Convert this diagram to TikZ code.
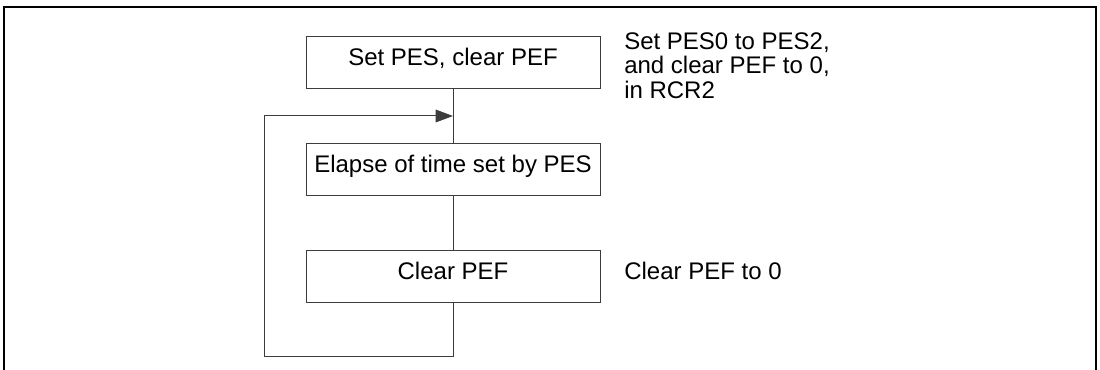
\documentclass[tikz,border=0pt]{standalone}
\usepackage{fontspec}
\setmainfont{Liberation Sans}
\usetikzlibrary{arrows.meta}

\definecolor{linegray}{RGB}{60,60,60}

\tikzset{
    stepbox/.style={draw=linegray, line width=0.75pt, inner sep=0pt,
        minimum width=220.5pt, minimum height=39pt,
        text height=0.75em, text depth=0.25em,
        font=\fontsize{18}{16.5}\selectfont},
    notetext/.style={inner sep=0pt, align=left,
        font=\fontsize{18}{18.5}\selectfont},
    flowline/.style={draw=linegray, line width=0.75pt}
}

\begin{document}
\begin{tikzpicture}[x=0.75pt,y=0.75pt,yscale=-1,xscale=1]
    \useasboundingbox (0,0) rectangle (1100,370); %set diagram to 1100 x 370

    %Shape: Frame (open at the bottom)
    \draw [line width=1.2pt] (4,370) -- (4,7) -- (1096,7) -- (1096,370) ;

    %Shape: Rectangle
    \node [stepbox] (setpes) at (453,62.5) {Set PES, clear PEF};
    %Shape: Rectangle
    \node [stepbox] (elapse) at (453,169.5) {Elapse of time set by PES};
    %Shape: Rectangle
    \node [stepbox] (clrpef) at (453,276.5) {Clear PEF};

    % Text Node
    \node [notetext, anchor=north west] (setnote) at (624,32) {Set PES0 to PES2,\\and clear PEF to 0,\\in RCR2};
    % Text Node
    \node [notetext, anchor=base west] (clrnote) at (624,280) {Clear PEF to 0};

    %Straight Lines
    \coordinate (loopbot) at (264,356.5);
    \coordinate (joint) at (453,116);
    \draw [flowline] (setpes) -- (elapse) ;
    \draw [flowline] (elapse) -- (clrpef) ;
    %Loop back with arrow
    \draw [flowline, -{Triangle[length=13pt,width=9.5pt]}] (clrpef) |- (loopbot) |- (joint) ;

\end{tikzpicture}
\end{document}
